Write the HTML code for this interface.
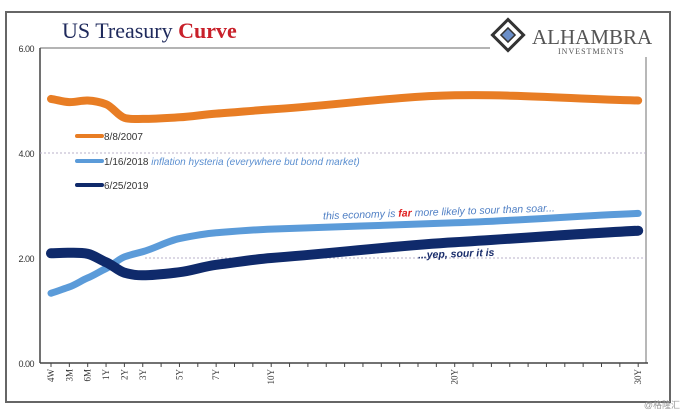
<!DOCTYPE html>
<html><head><meta charset="utf-8"><style>
body{margin:0;background:#fff;}
svg{display:block;}
</style></head><body>
<svg id="c" width="684" height="414" xmlns="http://www.w3.org/2000/svg" font-family="Liberation Sans, sans-serif">
<rect x="6" y="12" width="664" height="390" fill="#fff" stroke="#666" stroke-width="2"/>
<text x="62" y="38" font-family="Liberation Serif, serif" font-size="22" fill="#1f2a5c">US Treasury <tspan fill="#c8202a" font-weight="bold">Curve</tspan></text>
<g>
<rect x="497" y="24" width="22" height="22" transform="rotate(45 508 35)" fill="none" stroke="#333" stroke-width="3"/>
<rect x="503" y="30" width="10" height="10" transform="rotate(45 508 35)" fill="#6b8fc9" stroke="#333" stroke-width="1.5"/>
<text x="532" y="44" font-family="Liberation Serif, serif" font-size="21" fill="#555">ALHAMBRA</text>
<text x="558" y="54" font-family="Liberation Serif, serif" font-size="8" fill="#555" letter-spacing="1">INVESTMENTS</text>
</g>
<g id="plot"></g>
</svg>
<script>
const categories=['4W','3M','6M','1Y','2Y','3Y','5Y','7Y','10Y','20Y','30Y'];
const catIndex=[0,1,2,3,4,5,7,9,12,22,32];
const s2007=[5.03,4.97,5.0,4.93,4.67,4.65,4.68,4.75,4.83,5.1,5.0];
const s2018=[1.33,1.45,1.62,1.80,2.02,2.12,2.37,2.48,2.55,2.67,2.85];
const s2019=[2.09,2.10,2.08,1.92,1.72,1.67,1.73,1.87,2.0,2.3,2.52];
const yTicks=[0,2,4,6];
const yTickLabels=['0.00','2.00','4.00','6.00'];
const NS='http://www.w3.org/2000/svg';
const g=document.getElementById('plot');
const x=i=>51+i*18.35;
const y=v=>363-v*52.5;
function el(t,a,p){const e=document.createElementNS(NS,t);for(const k in a)e.setAttribute(k,a[k]);(p||g).appendChild(e);return e;}
let e=el('line',{x1:40,y1:y(6),x2:490,y2:y(6),stroke:'#888','stroke-width':1.2});

e=el('line',{x1:646,y1:57,x2:646,y2:363,stroke:'#888','stroke-width':1.2});

e=el('line',{x1:40,y1:y(0),x2:648,y2:y(0),stroke:'#444','stroke-width':1.5});

e=el('line',{x1:40,y1:y(0),x2:40,y2:y(6),stroke:'#444','stroke-width':1.5});

yTicks.forEach((v,i)=>{
  const t=el('text',{x:34,y:y(v)+4,'font-size':9,'text-anchor':'end',fill:'#333','letter-spacing':'-0.5'});
  t.textContent=yTickLabels[i];
  
  if(v===2||v===4){const gl=el('line',{x1:v===2?145:40,y1:y(v),x2:646,y2:y(v),stroke:'#b9b0c8','stroke-width':1,'stroke-dasharray':'2,2'});
  }
});
for(let i=0;i<=32;i++){const tk=el('line',{x1:x(i),y1:y(0),x2:x(i),y2:y(0)+4,stroke:'#444'});
}
categories.forEach((c,i)=>{
  const t=el('text',{transform:`translate(${x(catIndex[i])+3},${y(0)+6}) rotate(-90)`,'font-size':9,'text-anchor':'end','font-family':'Liberation Serif, serif',fill:'#333'});
  t.textContent=c;
  
});
function series(vals,col,w,name){
  const P=vals.map((v,i)=>[x(catIndex[i]),y(v)]);
  let d='M'+P[0][0].toFixed(1)+','+P[0][1].toFixed(1);
  for(let i=0;i<P.length-1;i++){
    const p0=P[Math.max(0,i-1)],p1=P[i],p2=P[i+1],p3=P[Math.min(P.length-1,i+2)];
    const span=p2[0]-p1[0];
    const m1=(p2[1]-p0[1])/(p2[0]-p0[0]||1), m2=(p3[1]-p1[1])/(p3[0]-p1[0]||1);
    const c1=[p1[0]+span/3,p1[1]+m1*span/3*0.8];
    const c2=[p2[0]-span/3,p2[1]-m2*span/3*0.8];
    d+=` C${c1[0].toFixed(1)},${c1[1].toFixed(1)} ${c2[0].toFixed(1)},${c2[1].toFixed(1)} ${p2[0].toFixed(1)},${p2[1].toFixed(1)}`;
  }
  const p=el('path',{d:d,fill:'none',stroke:col,'stroke-width':w,'stroke-linejoin':'round','stroke-linecap':'round'});
  
}
series(s2007,'#e87d24',8,'series-2007');
series(s2018,'#5b9bd9',7,'series-2018');
series(s2019,'#0f2a6b',10,'series-2019');
[['#e87d24','8/8/2007','',136,'legend-2007'],['#5b9bd9','1/16/2018',' inflation hysteria (everywhere but bond market)',161,'legend-2018'],['#0f2a6b','6/25/2019','',185,'legend-2019']].forEach(L=>{
  const ln=el('line',{x1:77,y1:L[3],x2:102,y2:L[3],stroke:L[0],'stroke-width':4,'stroke-linecap':'round'});
  
  const t=el('text',{x:104,y:L[3]+4,'font-size':10,fill:'#333'});
  t.textContent=L[1];
  if(L[2]){const ts=el('tspan',{fill:'#5b8fd0','font-style':'italic'},t);ts.textContent=L[2];}
  
});
let a=el('text',{x:323,y:215,'font-size':10.5,'font-style':'italic',fill:'#4f7fc4',transform:'rotate(-2 450 212)'});
a.innerHTML='this economy is <tspan fill="#e02020" font-weight="bold">far</tspan> more likely to sour than soar...';

a=el('text',{x:418,y:257,'font-size':10.5,'font-style':'italic','font-weight':'bold',fill:'#1a2d6b',transform:'rotate(-2 460 255)'});
a.textContent='...yep, sour it is';

a=el('text',{x:680,y:408,'font-size':9,'text-anchor':'end',fill:'#999','font-family':'Liberation Sans, Noto Sans CJK SC, sans-serif'});
a.textContent='@格隆汇';

</script>
</body></html>
